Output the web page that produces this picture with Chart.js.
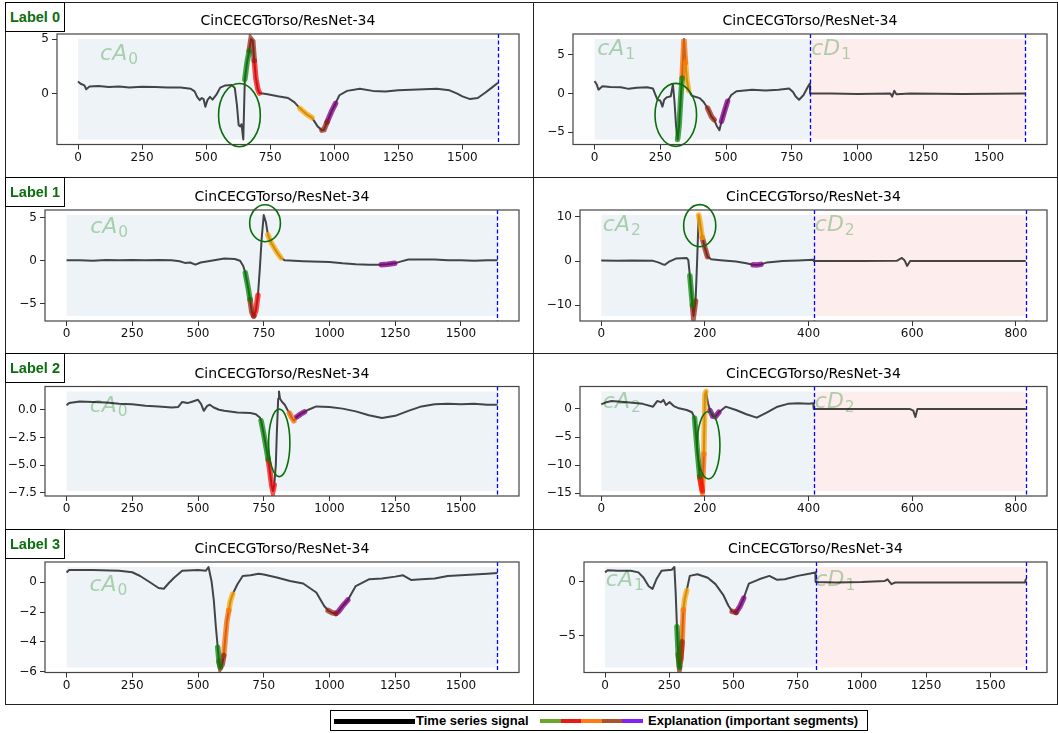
<!DOCTYPE html>
<html>
<head>
<meta charset="utf-8">
<script src="https://cdn.jsdelivr.net/npm/chart.js@4.4.1/dist/chart.umd.min.js"></script>
<style>
  body { margin: 0; background: #fff; }
  #fig { position: relative; width: 1058px; height: 733px; overflow: hidden; }
  #fig canvas { position: absolute; }
  .ln { position: absolute; background: #222; z-index: 3; }
  .tag {
    position: absolute; left: 5px; width: 58px; height: 28px; z-index: 4;
    border: 1px solid #000; background: #fff; color: #0d6e0d;
    font: bold 14.5px "Liberation Sans", Arial, sans-serif;
    display: flex; align-items: center; justify-content: center;
  }
  #legend { position: absolute; left: 330px; top: 710px; width: 536px; height: 19px; border: 1.5px solid #000; }
  #legend .sw { position: absolute; }
  #legend .lt { position: absolute; top: 2px; font: bold 13px "Liberation Sans", Arial, sans-serif; color: #000; white-space: nowrap; }
</style>
</head>
<body>
<div id="fig">
  <div class="ln" style="left:5px;top:2px;width:1053px;height:1px"></div>
  <div class="ln" style="left:5px;top:177px;width:1053px;height:1px"></div>
  <div class="ln" style="left:5px;top:353px;width:1053px;height:1px"></div>
  <div class="ln" style="left:5px;top:529px;width:1053px;height:1px"></div>
  <div class="ln" style="left:5px;top:704px;width:1053px;height:1px"></div>
  <div class="ln" style="left:5px;top:2px;width:1px;height:703px"></div>
  <div class="ln" style="left:533px;top:2px;width:1px;height:703px"></div>
  <div class="ln" style="left:1057px;top:2px;width:1px;height:703px"></div>
  <div id="legend">
    <div class="sw" style="left:3px;top:7.5px;width:81px;height:5px;background:#000"></div>
    <div class="lt" style="left:85px">Time series signal</div>
    <div class="sw" style="left:209px;top:8px;width:21px;height:3.5px;background:#6aa628"></div>
    <div class="sw" style="left:230px;top:8px;width:20px;height:3.5px;background:#e8191b"></div>
    <div class="sw" style="left:250px;top:8px;width:21px;height:3.5px;background:#ff7a12"></div>
    <div class="sw" style="left:271px;top:8px;width:20px;height:3.5px;background:#a9542c"></div>
    <div class="sw" style="left:291px;top:8px;width:21px;height:3.5px;background:#8420f0"></div>
    <div class="lt" style="left:317px">Explanation (important segments)</div>
  </div>
</div>
<script>
const TITLE = "CinCECGTorso/ResNet-34";
const rowLabels = ["Label 0", "Label 1", "Label 2", "Label 3"];

// signals: [x, y]
const sig0 = [[0,1.1],[10,0.9],[25,0.75],[32,0.4],[45,0.65],[80,0.7],[120,0.6],[160,0.65],[200,0.55],[250,0.62],[300,0.6],[350,0.55],[400,0.55],[440,0.45],[455,0.2],[465,-0.3],[475,-0.6],[483,-0.4],[490,-0.5],[497,-1.2],[505,-0.6],[515,-0.3],[525,-0.55],[540,-0.1],[555,0.55],[575,0.75],[600,0.8],[612,0.5],[620,-1.0],[627,-2.9],[633,-3.0],[638,-2.8],[645,-4.2],[651,1.3],[660,2.9],[668,3.9],[675,5.0],[682,4.8],[688,3.0],[694,1.4],[702,0.4],[708,0.05],[740,-0.05],[780,-0.25],[820,-0.4],[845,-0.8],[866,-1.35],[890,-1.85],[913,-2.2],[935,-3.0],[952,-3.35],[960,-3.3],[972,-2.6],[990,-1.6],[1005,-0.9],[1020,-0.15],[1050,0.25],[1100,0.45],[1150,0.25],[1200,0.2],[1250,0.3],[1300,0.35],[1350,0.4],[1400,0.45],[1450,0.3],[1480,0.0],[1500,-0.25],[1530,-0.5],[1560,-0.4],[1590,0.1],[1615,0.55],[1639,1.0]];
const sig1 = [[0,1.6],[8,1.2],[15,0.5],[30,0.95],[60,0.85],[100,0.8],[130,0.6],[160,0.75],[200,0.8],[222,0.65],[232,-0.2],[240,-0.85],[250,-0.9],[258,-1.7],[265,-0.8],[275,-0.5],[290,-0.35],[298,1.2],[304,-1.0],[310,-4.2],[316,-5.95],[322,-4.0],[328,-0.5],[333,2.0],[340,7.05],[346,4.0],[351,1.8],[358,0.4],[370,-0.3],[400,-0.6],[415,-1.1],[430,-1.9],[445,-3.0],[455,-3.4],[465,-4.2],[475,-4.75],[483,-3.6],[495,-2.2],[506,-1.0],[520,-0.2],[540,0.3],[600,0.5],[650,0.4],[700,0.5],[740,0.65],[755,0.2],[765,-0.4],[778,-0.8],[795,-0.2],[812,0.9],[819,1.3],[820,0.0],[900,0.0],[1000,-0.05],[1125,0.0],[1132,-0.4],[1140,0.35],[1148,-0.1],[1200,0.0],[1400,-0.05],[1639,0.0]];
const sig2 = [[0,0.05],[50,0.05],[100,0.0],[150,0.1],[200,0.05],[250,0.1],[300,0.05],[350,0.1],[400,0.05],[430,-0.05],[450,-0.25],[470,-0.2],[490,-0.45],[510,-0.2],[550,0.0],[600,0.25],[640,0.2],[660,0.0],[672,-0.6],[680,-1.4],[690,-3.0],[698,-4.5],[705,-6.0],[712,-6.4],[720,-5.8],[728,-4.0],[735,-1.0],[742,2.5],[750,5.3],[758,4.5],[766,3.0],[780,2.0],[800,1.0],[815,0.35],[830,0.05],[900,-0.05],[1000,-0.15],[1050,-0.3],[1100,-0.4],[1150,-0.45],[1197,-0.45],[1220,-0.4],[1248,-0.3],[1270,-0.1],[1300,0.15],[1350,0.15],[1400,0.15],[1450,0.05],[1500,0.05],[1550,0.0],[1600,0.05],[1639,0.05]];
const sig3 = [[0,0.15],[30,0.1],[60,0.15],[100,0.05],[110,-0.3],[118,-0.7],[123,-0.85],[130,-0.2],[145,0.6],[165,0.7],[168,0.2],[171,-3.3],[176,-10.0],[178,-12.4],[182,-9.0],[185,0.0],[188,10.4],[191,8.5],[195,5.3],[200,3.0],[205,1.0],[212,0.4],[230,0.2],[260,-0.1],[280,-0.5],[293,-0.85],[300,-0.9],[308,-0.75],[320,-0.3],[350,0.0],[380,0.15],[409,0.3],[410,0.0],[500,0.0],[570,0.05],[580,0.7],[585,0.2],[590,-1.1],[596,0.0],[650,0.0],[819,0.0]];
const sig4 = [[0,0.4],[10,0.6],[50,0.75],[100,0.7],[150,0.65],[200,0.55],[250,0.5],[300,0.35],[350,0.3],[400,0.2],[425,0.25],[440,0.7],[460,0.6],[480,0.75],[500,0.9],[512,0.5],[522,-0.1],[535,0.35],[545,0.45],[560,0.2],[580,0.0],[600,-0.1],[650,-0.25],[700,-0.3],[720,-0.4],[735,-0.7],[740,-1.0],[750,-2.2],[760,-3.5],[767,-4.5],[772,-5.3],[780,-6.8],[785,-7.35],[790,-6.8],[796,-5.0],[800,-2.0],[805,1.0],[808,1.65],[812,1.0],[820,0.7],[830,0.45],[840,0.0],[848,-0.3],[856,-0.7],[865,-1.0],[875,-0.65],[890,-0.4],[905,-0.2],[920,0.0],[950,0.3],[1000,0.25],[1050,0.1],[1100,-0.15],[1150,-0.5],[1200,-0.75],[1250,-0.55],[1300,-0.1],[1350,0.3],[1400,0.5],[1450,0.55],[1500,0.5],[1550,0.55],[1600,0.45],[1639,0.45]];
const sig5 = [[0,0.8],[10,1.2],[20,1.4],[50,1.2],[80,0.9],[100,0.4],[108,1.4],[115,1.2],[120,1.6],[125,0.7],[132,1.2],[140,0.5],[150,0.1],[165,-0.2],[175,-0.6],[180,-1.6],[185,-7.0],[190,-12.0],[195,-14.6],[198,-8.0],[200,2.5],[202,3.1],[206,1.0],[210,-0.3],[215,-1.3],[220,-1.4],[227,-0.6],[240,0.4],[260,-0.2],[280,-0.95],[300,-1.55],[320,-0.6],[340,0.4],[360,0.9],[380,1.0],[400,0.9],[409,1.0],[410,0.0],[500,0.0],[595,0.0],[602,-0.3],[606,-1.45],[610,0.0],[650,0.0],[819,0.0]];
const sig6 = [[0,0.63],[10,0.8],[100,0.8],[200,0.75],[250,0.65],[280,0.4],[320,-0.05],[350,-0.4],[370,-0.45],[390,-0.05],[410,0.3],[440,0.75],[500,0.8],[530,0.75],[540,1.0],[552,0.0],[560,-1.2],[568,-3.0],[575,-4.35],[580,-5.3],[585,-5.7],[592,-5.5],[598,-4.9],[603,-3.9],[610,-2.6],[617,-1.9],[623,-1.3],[632,-0.8],[650,-0.15],[670,0.4],[700,0.45],[730,0.55],[750,0.5],[800,0.3],[850,0.07],[900,-0.1],[950,-0.7],[980,-1.6],[995,-1.9],[1010,-2.05],[1025,-2.1],[1035,-1.95],[1050,-1.6],[1070,-1.2],[1100,-0.27],[1150,0.18],[1200,0.23],[1250,0.36],[1280,0.45],[1310,0.14],[1350,0.18],[1400,0.23],[1450,0.4],[1500,0.45],[1550,0.5],[1600,0.55],[1639,0.6]];
const sig7 = [[0,0.9],[10,1.1],[50,1.05],[100,1.05],[130,0.9],[150,0.4],[170,-0.4],[185,-0.65],[200,0.25],[220,1.05],[260,1.15],[270,1.4],[275,-1.0],[280,-4.2],[285,-6.75],[290,-8.0],[295,-7.2],[300,-5.6],[305,-2.6],[310,-1.6],[318,-0.8],[330,0.57],[360,0.73],[400,0.4],[430,-0.2],[460,-1.2],[480,-2.2],[495,-2.75],[510,-2.85],[525,-2.3],[540,-1.5],[560,-0.15],[600,0.25],[640,0.57],[670,0.2],[700,0.25],[750,0.57],[800,0.8],[819,0.9],[820,0.0],[900,-0.05],[1000,0.0],[1090,0.1],[1100,0.25],[1115,-0.2],[1130,-0.05],[1300,-0.05],[1500,-0.05],[1635,-0.05],[1639,0.3]];

// explanation segments: [fromX, toX, colour key]
const seg0 = [[651,668,"g"],[668,688,"b"],[688,708,"r"],[866,913,"o"],[952,972,"b"],[972,1005,"p"]];
const seg1 = [[316,333,"g"],[333,346,"d"],[346,358,"o"],[430,455,"b"],[483,506,"p"]];
const seg2 = [[680,698,"g"],[698,712,"b"],[712,728,"r"],[766,815,"o"],[1197,1248,"p"]];
const seg3 = [[171,176,"g"],[176,182,"b"],[188,195,"o"],[195,205,"b"],[293,308,"p"]];
const seg4 = [[740,767,"g"],[767,790,"r"],[848,865,"d"],[875,905,"p"]];
const seg5 = [[180,190,"g"],[190,195,"r"],[190,198,"d"],[198,202,"o"],[210,227,"p"]];
const seg6 = [[575,585,"g"],[580,598,"b"],[598,617,"d"],[617,632,"o"],[995,1025,"b"],[1025,1070,"p"]];
const seg7 = [[280,290,"g"],[285,300,"b"],[295,305,"d"],[305,318,"o"],[495,510,"b"],[510,540,"p"]];

// highlight ellipses: [cx, cy, width, height] in data units
const ell0 = [[630,-1.97,163,5.8]];
const ell1 = [[309,-2.77,158,8.15]];
const ell2 = [[755,4.35,117,4.3]];
const ell3 = [[190,8.0,62,9.5]];
const ell4 = [[809,-3.0,81,6.1]];
const ell5 = [[207,-6.45,44,12.0]];

// coefficient names: [name, subscript, x, y]
const txt0 = [["cA","0",86,3.1]];
const txt1 = [["cA","1",10,4.93],["cD","1",824,4.93]];
const txt2 = [["cA","0",90,3.2]];
const txt3 = [["cA","2",3,6.85],["cD","2",412,6.85]];
const txt4 = [["cA","0",88,-0.2]];
const txt5 = [["cA","2",3,0.1],["cD","2",412,0.1]];
const txt6 = [["cA","0",87,-0.6]];
const txt7 = [["cA","1",3,-0.4],["cD","1",819,-0.4]];

const splits = [null, 820, null, 410, null, 410, null, 820];
const ends = [1639, 1639, 1639, 819, 1639, 819, 1639, 1639];

// tick labels
const xTicksLong = [0, 250, 500, 750, 1000, 1250, 1500];
const xTicksShort = [0, 200, 400, 600, 800];
const xTicks = [xTicksLong, xTicksLong, xTicksLong, xTicksShort, xTicksLong, xTicksShort, xTicksLong, xTicksLong];
const yTicks = [[0, 5], [-5, 0, 5], [-5, 0, 5], [-10, 0, 10], [-7.5, -5, -2.5, 0], [-15, -10, -5, 0], [-6, -4, -2, 0], [-5, 0]];
const yDecimals = [0, 0, 0, 0, 1, 0, 0, 0];

const panels = [
  { sig: sig0, seg: seg0, ell: ell0, txt: txt0 },
  { sig: sig1, seg: seg1, ell: ell1, txt: txt1 },
  { sig: sig2, seg: seg2, ell: ell2, txt: txt2 },
  { sig: sig3, seg: seg3, ell: ell3, txt: txt3 },
  { sig: sig4, seg: seg4, ell: ell4, txt: txt4 },
  { sig: sig5, seg: seg5, ell: ell5, txt: txt5 },
  { sig: sig6, seg: seg6, ell: [], txt: txt6 },
  { sig: sig7, seg: seg7, ell: [], txt: txt7 },
];

const SEGCOL = {
  g: "rgba(0,128,0,0.7)", r: "rgba(255,0,0,0.7)", d: "rgba(255,110,0,0.75)",
  o: "rgba(255,165,0,0.75)", b: "rgba(150,30,10,0.7)", p: "rgba(128,0,128,0.75)"
};

// plot-area rectangles [left, top, right, bottom] in page pixels
const boxes = [
  [57, 34, 519, 144.5], [573, 34, 1047, 144.5],
  [45, 210, 519, 321], [580, 210, 1047, 321],
  [45, 386.5, 519, 496], [580, 386.5, 1047, 496],
  [45, 562, 519, 672.5], [584, 562, 1047, 672.5]
];
const rowTop = [2, 177, 353, 529, 704];
const FONT = "DejaVu Sans";
const TITLE_H = 14 * 1.2 + 4;
const XAXIS_H = 28;

const fig = document.getElementById("fig");

function fmt(v, dec) {
  const s = Math.abs(v) < 1e-9 ? (0).toFixed(dec) : v.toFixed(dec);
  return s.replace("-", "\u2212");
}

function makeDecor(i, ymin, ymax) {
  const P = panels[i], split = splits[i], end = ends[i];
  return {
    id: "decor" + i,
    beforeDatasetsDraw(chart) {
      const { ctx, chartArea: a, scales: { x, y } } = chart;
      ctx.save();
      ctx.beginPath(); ctx.rect(a.left, a.top, a.width, a.height); ctx.clip();
      const yt = y.getPixelForValue(ymax), yb = y.getPixelForValue(ymin);
      const x0 = x.getPixelForValue(0), xs = x.getPixelForValue(split || end), xe = x.getPixelForValue(end);
      ctx.fillStyle = "#eef3f8";
      ctx.fillRect(x0, yt, xs - x0, yb - yt);
      if (split) {
        ctx.fillStyle = "#fdeeed";
        ctx.fillRect(xs, yt, xe - xs, yb - yt);
      }
      ctx.fillStyle = "rgba(34,139,34,0.35)";
      ctx.textBaseline = "alphabetic";
      P.txt.forEach(([name, sub, tx, ty]) => {
        const px = x.getPixelForValue(tx), py = y.getPixelForValue(ty);
        ctx.font = "italic 22px '" + FONT + "'";
        ctx.fillText(name, px, py);
        const w = ctx.measureText(name).width;
        ctx.font = "15.5px '" + FONT + "'";
        ctx.fillText(sub, px + w + 1, py + 4);
      });
      ctx.restore();
    },
    afterDatasetsDraw(chart) {
      const { ctx, chartArea: a, scales: { x, y } } = chart;
      ctx.save();
      ctx.strokeStyle = "#0a6e0a";
      ctx.lineWidth = 1.6;
      P.ell.forEach(([cx, cy, w, h]) => {
        const px = x.getPixelForValue(cx), py = y.getPixelForValue(cy);
        const rx = Math.abs(x.getPixelForValue(cx + w / 2) - px);
        const ry = Math.abs(y.getPixelForValue(cy + h / 2) - py);
        ctx.beginPath(); ctx.ellipse(px, py, rx, ry, 0, 0, Math.PI * 2); ctx.stroke();
      });
      ctx.strokeStyle = "blue";
      ctx.lineWidth = 1.3;
      ctx.setLineDash([4, 2.5]);
      [split, end].filter(v => v).forEach(v => {
        const px = Math.round(x.getPixelForValue(v)) + 0.5;
        ctx.beginPath(); ctx.moveTo(px, a.top); ctx.lineTo(px, a.bottom); ctx.stroke();
      });
      ctx.setLineDash([]);
      ctx.strokeStyle = "#444";
      ctx.lineWidth = 1.2;
      ctx.strokeRect(a.left, a.top, a.width, a.height);
      ctx.restore();
    }
  };
}

function build(i) {
  const P = panels[i];
  const row = Math.floor(i / 2), col = i % 2;
  const cx = col ? 534 : 6, cw = col ? 523 : 526;
  const cy = rowTop[row] + 1, ch = rowTop[row + 1] - cy;
  const cv = document.createElement("canvas");
  cv.width = cw; cv.height = ch;
  cv.style.left = cx + "px"; cv.style.top = cy + "px";
  fig.appendChild(cv);

  const [L, T, R, B] = boxes[i];
  const ys = P.sig.map(p => p[1]);
  const ymin = Math.min(...ys), ymax = Math.max(...ys);
  const end = ends[i], yr = ymax - ymin;

  const datasets = P.seg.map(([a, b, k]) => ({
    data: P.sig.filter(p => p[0] >= a && p[0] <= b).map(([x, y]) => ({ x, y })),
    borderColor: SEGCOL[k], borderWidth: 5.5, borderCapStyle: "round",
    pointRadius: 0, tension: 0, order: 0
  }));
  datasets.push({
    data: P.sig.map(([x, y]) => ({ x, y })),
    borderColor: "rgba(0,0,0,0.72)", borderWidth: 2, borderJoinStyle: "round",
    pointRadius: 0, tension: 0, order: 1
  });

  const tickFont = { family: FONT, size: 12 };
  new Chart(cv.getContext("2d"), {
    type: "line",
    data: { datasets },
    options: {
      responsive: false, animation: false, devicePixelRatio: 1, events: [],
      layout: { padding: { left: 0, right: cx + cw - R, top: T - cy - TITLE_H, bottom: cy + ch - B - XAXIS_H } },
      plugins: {
        legend: { display: false }, tooltip: { enabled: false },
        title: {
          display: true, text: TITLE, fullSize: false, color: "#000",
          font: { family: FONT, size: 14, weight: "normal" }, padding: { top: 0, bottom: 4 }
        }
      },
      scales: {
        x: {
          type: "linear", min: -0.05 * end, max: 1.05 * end,
          afterBuildTicks: s => { s.ticks = xTicks[i].map(v => ({ value: v })); },
          ticks: { autoSkip: false, maxRotation: 0, font: tickFont, color: "#111", padding: 1,
                   callback: v => fmt(v, 0) },
          grid: { drawOnChartArea: false, tickLength: 5, color: "#333" },
          border: { display: false },
          afterFit: s => { s.height = XAXIS_H; }
        },
        y: {
          type: "linear", min: ymin - 0.05 * yr, max: ymax + 0.05 * yr,
          afterBuildTicks: s => { s.ticks = yTicks[i].map(v => ({ value: v })); },
          ticks: { autoSkip: false, font: tickFont, color: "#111", padding: 3,
                   callback: v => fmt(v, yDecimals[i]) },
          grid: { drawOnChartArea: false, tickLength: 5, color: "#333" },
          border: { display: false },
          afterFit: s => { s.width = L - cx; }
        }
      }
    },
    plugins: [makeDecor(i, ymin, ymax)]
  });
}

rowLabels.forEach((t, r) => {
  const d = document.createElement("div");
  d.className = "tag";
  d.style.top = rowTop[r] + "px";
  d.textContent = t;
  fig.appendChild(d);
});

panels.forEach((p, i) => build(i));
</script>
</body>
</html>
